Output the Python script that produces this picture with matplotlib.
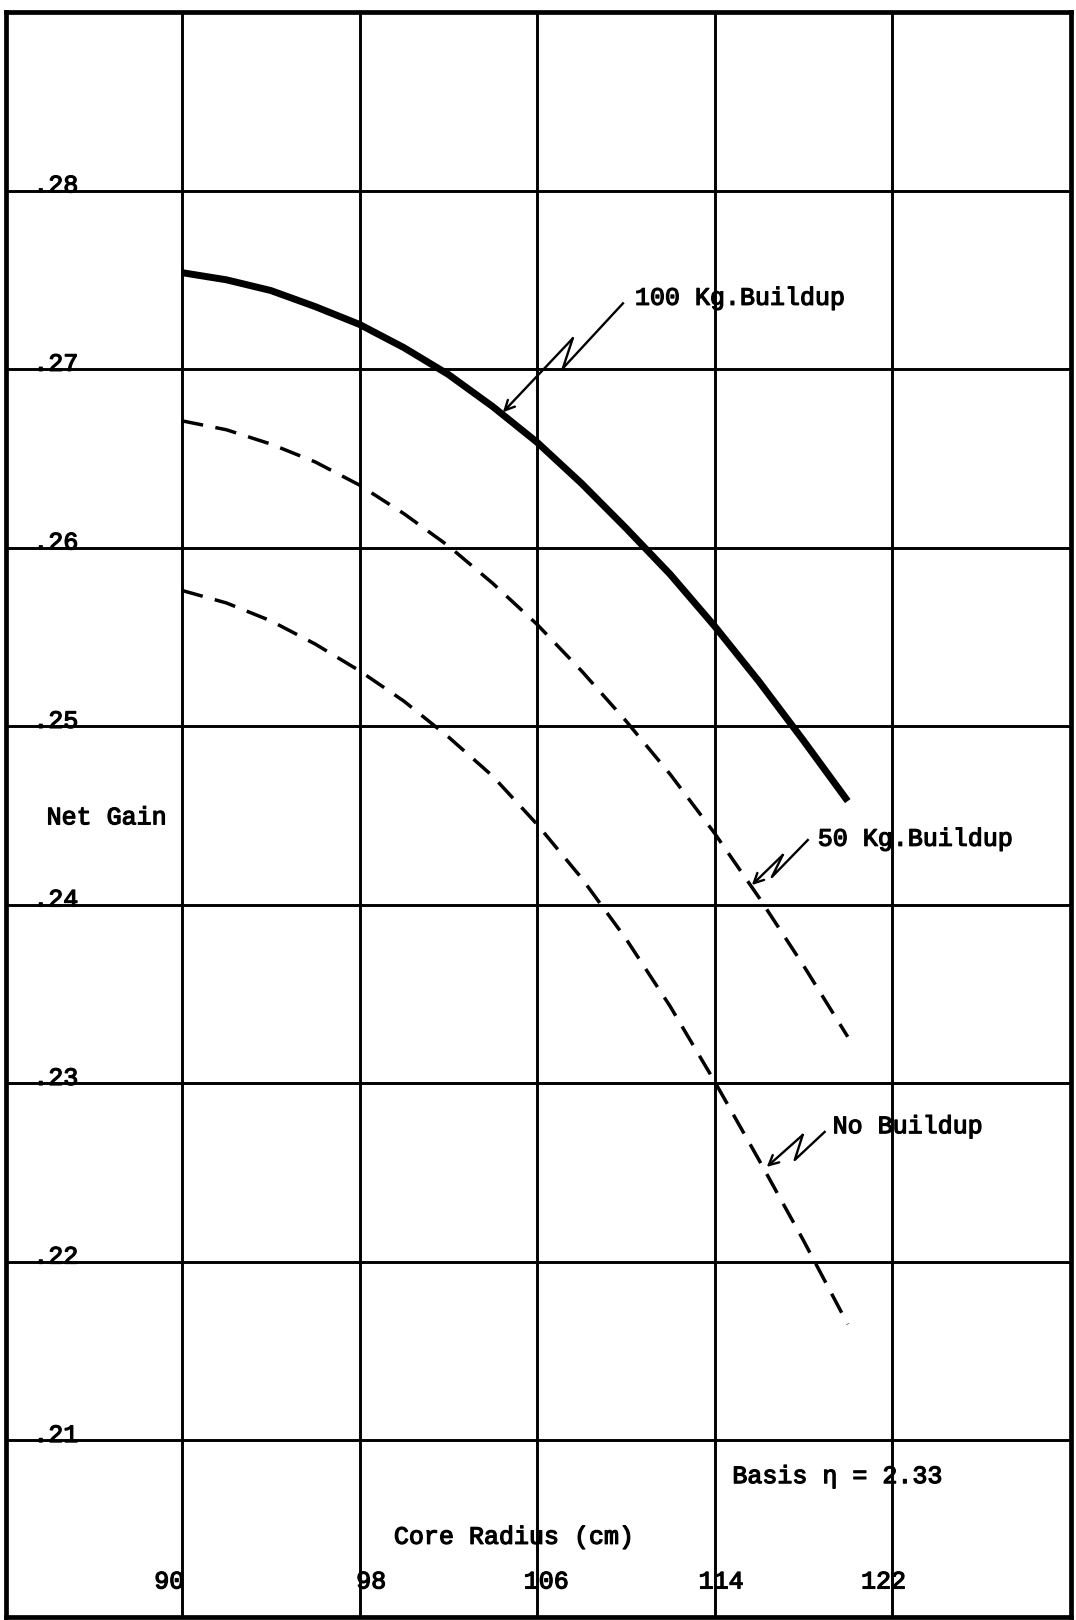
import matplotlib
matplotlib.use("Agg")
import matplotlib.pyplot as plt
import matplotlib.patheffects as pe

# Core radius (cm) and net gain for the three buildup cases
radius = [90, 92, 94, 96, 98, 100, 102, 104, 106, 108, 110, 112, 114, 116, 118, 120]
gain_100kg = [0.2754, 0.2750, 0.2744, 0.2735, 0.2725, 0.2712, 0.2697, 0.2679,
              0.2659, 0.2636, 0.2611, 0.2585, 0.2556, 0.2525, 0.2492, 0.2458]
gain_50kg = [0.2671, 0.2666, 0.2658, 0.2648, 0.2635, 0.2619, 0.2601, 0.2580,
             0.2557, 0.2531, 0.2503, 0.2473, 0.2440, 0.2404, 0.2366, 0.2326]
gain_none = [0.2576, 0.2569, 0.2559, 0.2546, 0.2531, 0.2514, 0.2494, 0.2472,
             0.2445, 0.2415, 0.2381, 0.2343, 0.2301, 0.2257, 0.2212, 0.2165]

x_ticks = [90, 98, 106, 114, 122]
x_tick_labels = ["90", "98", "106", "114", "122"]
y_ticks = [0.21, 0.22, 0.23, 0.24, 0.25, 0.26, 0.27, 0.28]
y_tick_labels = [".21", ".22", ".23", ".24", ".25", ".26", ".27", ".28"]

W, H = 1076, 1620
fig = plt.figure(figsize=(W / 100, H / 100), dpi=100)
left_px, right_px, top_px, bottom_px = 6, 1071, 12, 1617
ax = fig.add_axes([left_px / W, 1 - bottom_px / H,
                   (right_px - left_px) / W, (bottom_px - top_px) / H])
ax.set_xlim(82.07, 130.06)
ax.set_ylim(0.2001, 0.29)

FONT = "Liberation Mono"
FS = 18
# typewriter-style text: regular face with a slightly inked outline
TXT = dict(family=FONT, fontsize=FS, ha="left", va="baseline",
           path_effects=[pe.withStroke(linewidth=0.9, foreground="black")])

# grid
ax.set_xticks(x_ticks)
ax.set_yticks(y_ticks)
ax.tick_params(length=0, labelbottom=False, labelleft=False)
ax.grid(True, color="black", lw=2.1)
ax.set_axisbelow(True)
for s in ax.spines.values():
    s.set_linewidth(3.4)
    s.set_color("black")

# curves
ax.plot(radius, gain_100kg, color="black", lw=5.0, solid_capstyle="butt",
        solid_joinstyle="round", zorder=3)
ax.plot(radius, gain_50kg, color="black", lw=2.5, dashes=(6.2, 3.6), zorder=3)
ax.plot(radius, gain_none, color="black", lw=2.5, dashes=(6.2, 3.6), zorder=3)

# typed tick labels
for yv, lab in zip(y_ticks, y_tick_labels):
    ax.text(83.3, yv - 0.0001, lab, **TXT)
x_label_shift = [-1.25, -0.15, -0.6, -0.72, -1.4]
for xv, lab, dx in zip(x_ticks, x_tick_labels, x_label_shift):
    ax.text(xv + dx, 0.2017, lab, **TXT)

ax.text(99.55, 0.2042, "Core Radius (cm)", **TXT)
ax.text(114.8, 0.2076, "Basis \u03b7 = 2.33", **TXT)
ax.text(83.9, 0.2445, "Net Gain", **TXT)

# curve labels with zig-zag leader arrows
labels = [
    ("100 Kg.Buildup", (110.41, 0.2736),
     [(109.87, 0.27368), (107.16, 0.27004), (107.61, 0.27172)], (104.46, 0.26758)),
    ("50 Kg.Buildup", (118.65, 0.2433),
     [(118.20, 0.24362), (116.58, 0.24155), (117.07, 0.24278)], (115.68, 0.24110)),
    ("No Buildup", (119.32, 0.2272),
     [(118.96, 0.22727), (117.61, 0.22570), (117.97, 0.22710)], (116.35, 0.22531)),
]
for text, pos, path, tip in labels:
    ax.text(pos[0], pos[1], text, **TXT)
    xs, ys = zip(*path)
    ax.plot(xs, ys, color="black", lw=1.7, zorder=4)
    ax.annotate("", xy=tip, xytext=path[-1],
                arrowprops=dict(arrowstyle="->,head_length=0.7,head_width=0.35",
                                color="black", lw=1.7, shrinkA=0, shrinkB=0),
                zorder=4)

fig.savefig("out.png", dpi=100, facecolor="white")
